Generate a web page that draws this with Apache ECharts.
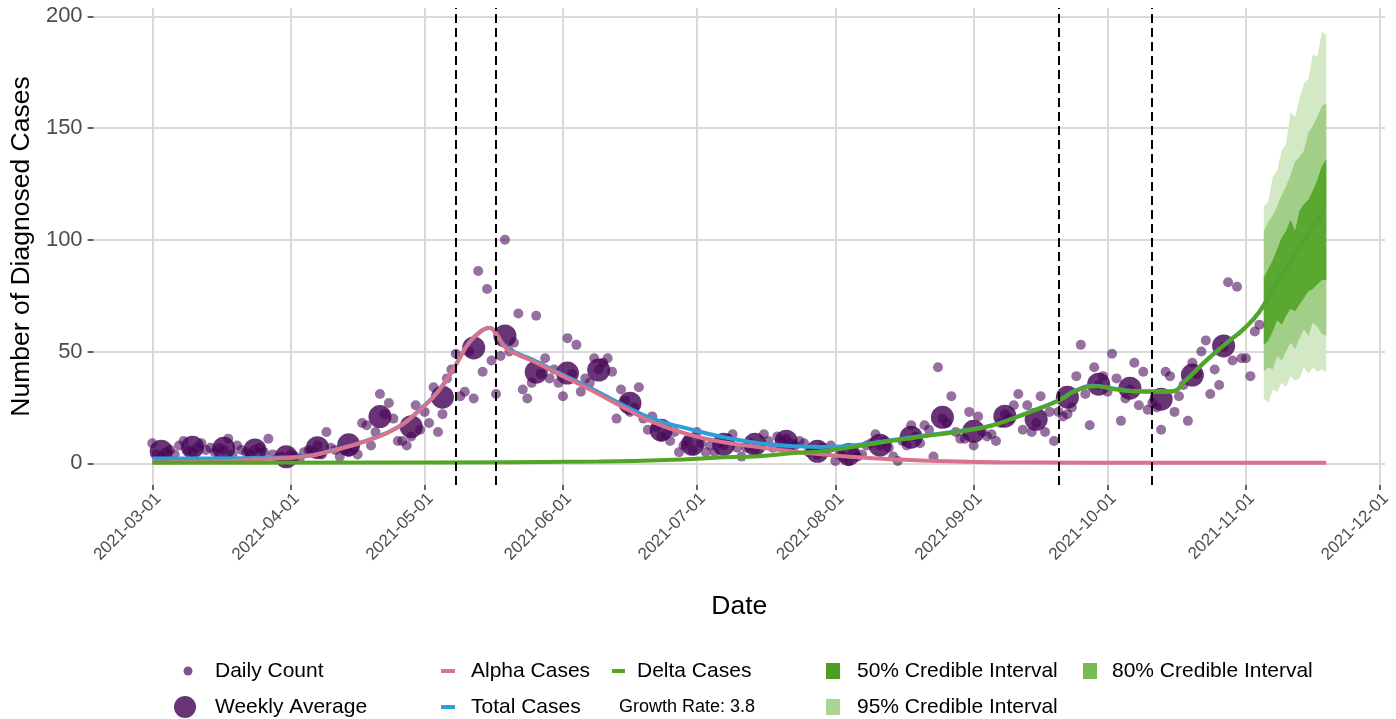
<!DOCTYPE html>
<html><head><meta charset="utf-8">
<script src="https://cdn.jsdelivr.net/npm/echarts@6/dist/echarts.min.js"></script>
<style>html,body{margin:0;padding:0;background:#fff}#chart{width:1396px;height:719px}</style>
</head><body><div id="chart"></div>
<script>
// x values are days since 2021-03-01
const xTickDays = [0, 31, 61, 92, 122, 153, 184, 214, 245, 275];
const xTickLabels = ['2021-03-01','2021-04-01','2021-05-01','2021-06-01','2021-07-01','2021-08-01','2021-09-01','2021-10-01','2021-11-01','2021-12-01'];
const yTicks = [0, 50, 100, 150, 200];

const dailyCounts = [
  9,4,3,5,6,4,8, 10,6,5,7,9,6,7, 5,7,6,11,4,8,6, 5,4,6,7,5,11,4, 2,3,1,4,3,2,5,
  6,5,8,4,14,7,6, 3,6,5,7,4,18,17, 8,14,31,22,27,20,10, 10,8,12,26,15,23,18,
  34,14,22,38,42,49,30, 32,50,29,86,41,78,46, 31,48,100,50,54,67,33,
  29,36,66,40,47,38,42, 36,30,56,40,53,32,38, 36,47,42,45,47,41,20,
  33,28,23,25,34,20,15, 21,16,12,13,10,14,5, 8,10,6,14,9,5,8,
  5,9,8,11,13,7,3, 7,9,6,8,13,10,7, 12,10,11,9,8,10,9, 5,6,4,7,5,8,1,
  4,3,1,5,3,4,8, 9,13,8,10,7,3,1, 10,8,17,12,9,17,15, 3,43,20,18,30,14,11,
  11,23,8,21,14,12,13, 10,18,22,20,26,31,15, 26,14,18,30,14,23,10,
  23,21,22,25,39,53,31, 17,43,35,39,32,49,38, 19,29,33,45,26,41,24,
  27,25,15,41,39,23,30, 35,19,45,40,50,55,31, 42,35,52,81,46,79,47, 47,39,59,62
];

const weeklyDays = [2,9,16,23,30,37,44,51,58,65,72,79,86,93,100,107,114,121,128,135,142,149,156,163,170,177,184,191,198,205,212,219,226,233,240];
const weeklyAvg = [5.4,7.2,6.7,6.0,2.9,7.0,8.3,20.9,16.4,29.6,51.6,57.0,40.8,40.4,41.7,26.9,14.8,8.5,8.5,8.5,9.9,5.4,4.0,8.1,11.7,20.6,14.3,21.1,19.7,29.6,35.4,33.6,28.7,39.5,52.5];

const alphaDays  = [0,14,26,34,41,48,55,60,64,68,71,74,75.5,77,79,82,85,92,99,106,112,120,128,136,143,150,158,166,176,190,210,263];
const alphaCases = [0.5,0.8,2,3,6,10,16,24,32,44,54,59.5,60.5,58,52,48.5,46,39,32,24.5,18.5,13,9.4,7.2,5.4,4,2.7,1.8,1,0.5,0.3,0.2];

const totalDays  = [0,14,26,34,41,48,55,60,64,68,71,74,75.5,77,79,82,85,92,99,106,112,120,128,136,143,150,158,165,173,180,188,196,203,207,211,216,222,228,232,236,241,244.5,248,251.5,255.3,259,262.5];
const totalCases = [2.2,2.2,2.5,3.2,6.2,10.2,16.2,24.2,32.2,44.2,54.2,59.7,60.7,58.3,52.5,49,46.5,39.6,32.8,25.5,20,15.5,11.7,9,7.8,7.3,8.2,10.2,12.4,14.3,17,22.6,28.2,32.7,34.7,33.2,32.2,32.2,38.2,45.9,54.5,60.2,67.9,79.6,91.7,102.9,113.2];

const deltaDays  = [0,60,100,120,128,136,143,150,158,165,173,180,188,196,203,207,211,216,222,228,232,236,241,244.5,248,251.5,255.3,259,262.5];
const deltaCases = [0.3,0.4,0.8,1.8,2.7,3.2,4.5,5.4,7.6,9.9,12.1,14,16.8,22.5,28,32.5,34.5,33,32,32,38,45.7,54.3,60,67.7,79.4,91.5,102.7,113];

const bandDays = [249,250,251,252,253,254,255,256,257,258,259,260,261,262,263];
const ci95Low  = [29,27,33,32,36,34,39,37,38,43,40,43,41,42,41];
const ci95High = [115,117,128,131,140,143,157,155,163,170,172,183,182,193,192];
const ci80Low  = [41,43,42,48,46,50,54,51,56,60,57,63,61,58,57];
const ci80High = [104,108,111,115,120,124,129,135,137,140,148,151,155,160,161];
const ci50Low  = [53,55,59,64,62,66,69,68,71,74,77,78,80,82,82];
const ci50High = [83,87,91,96,101,104,109,104,113,116,118,122,127,133,136];

const changeDays = [68, 77, 203, 224];
const growthRate = 3.8;

const FONT = '"Liberation Sans", Arial, sans-serif';
const C = {
  daily: 'rgba(68,1,84,0.7)', weekly: '#440154',
  alpha: '#d9738d', total: '#2b9fd8', delta: '#53a624',
  c50: '#5aa82f', c80: '#a2cf88', c95: '#d3e9c6',
  l50: '#4c9e22', l80: '#7aba52', l95: '#acd495'
};

function band(name, lo, hi, color) {
  return {
    type: 'custom', name: name, silent: true,
    data: bandDays.map((d, i) => [d, lo[i], hi[i]]),
    encode: { x: 0, y: [1, 2] },
    renderItem: function (params, api) {
      if (params.dataIndex !== 0) return;
      const pts = [];
      for (let i = 0; i < bandDays.length; i++) pts.push(api.coord([bandDays[i], hi[i]]));
      for (let i = bandDays.length - 1; i >= 0; i--) pts.push(api.coord([bandDays[i], lo[i]]));
      return { type: 'polygon', shape: { points: pts }, style: { fill: color } };
    },
    itemStyle: { color: color }
  };
}
function curve(name, days, vals, color) {
  return {
    type: 'line', name: name, smooth: 0.5, symbol: 'none', silent: true,
    data: days.map((d, i) => [d, vals[i]]),
    lineStyle: { color: color, width: 4 }, itemStyle: { color: color }
  };
}
const legText = { fontFamily: FONT, fontSize: 21, color: '#000', lineHeight: 24 };
function leg(left, top, items, w, h, pad) {
  return {
    orient: 'vertical', left: left, top: top, itemWidth: w, itemHeight: h, itemGap: 12,
    selectedMode: false, padding: 0,
    textStyle: Object.assign({}, legText, { padding: [0, 0, 0, pad] }),
    data: items
  };
}

const chart = echarts.init(document.getElementById('chart'), null, { renderer: 'canvas' });
chart.setOption({
  animation: false,
  backgroundColor: '#fff',
  grid: { left: 93, right: 11, top: 8, bottom: 234, containLabel: false },
  xAxis: {
    type: 'value', min: -13.15, max: 276.15,
    name: 'Date', nameLocation: 'middle', nameGap: 108,
    nameTextStyle: { fontFamily: FONT, fontSize: 26.5, color: '#000' },
    axisLine: { show: false, onZero: false },
    axisTick: { show: true, length: 5, customValues: xTickDays, lineStyle: { color: '#333', width: 1.5 } },
    axisLabel: {
      customValues: xTickDays, rotate: 45, margin: 5, verticalAlign: 'top', color: '#4d4d4d', fontFamily: FONT, fontSize: 17,
      formatter: function (v) { const i = xTickDays.indexOf(Math.round(v)); return i >= 0 ? xTickLabels[i] : ''; }
    },
    splitLine: { show: true, lineStyle: { color: '#d9d9d9', width: 2 } }
  },
  yAxis: {
    type: 'value', min: -9.7, max: 203.7,
    name: 'Number of Diagnosed Cases', nameLocation: 'middle', nameGap: 49,
    nameTextStyle: { fontFamily: FONT, fontSize: 26.5, color: '#000' },
    axisLine: { show: false, onZero: false },
    axisTick: { show: true, length: 6, customValues: yTicks, lineStyle: { color: '#333', width: 1.5 } },
    axisLabel: { customValues: yTicks, margin: 11, color: '#4d4d4d', fontFamily: FONT, fontSize: 22 },
    splitLine: { show: true, lineStyle: { color: '#d9d9d9', width: 2 } }
  },
  legend: [
    leg(183.5, 659, [{ name: 'Daily Count', icon: 'circle', itemStyle: { color: '#5c2a6e' } }], 44, 9, 0),
    leg(174, 695, [{ name: 'Weekly Average', icon: 'circle', itemStyle: { color: C.weekly } }], 50, 22, 0),
    leg(441, 659, [{ name: 'Alpha Cases', icon: 'rect', itemStyle: { color: C.alpha } },
                   { name: 'Total Cases', icon: 'rect', itemStyle: { color: C.total } }], 14, 4, 11),
    leg(612, 659, [{ name: 'Delta Cases', icon: 'rect', itemStyle: { color: C.delta } }], 13, 4, 7),
    leg(826, 659, [{ name: '50% Credible Interval', icon: 'rect', itemStyle: { color: C.l50 } },
                   { name: '95% Credible Interval', icon: 'rect', itemStyle: { color: C.l95 } }], 14, 16, 12),
    leg(1083, 659, [{ name: '80% Credible Interval', icon: 'rect', itemStyle: { color: C.l80 } }], 14, 16, 10)
  ],
  graphic: [{
    type: 'text', left: 619, top: 698, silent: true,
    style: { text: 'Growth Rate: ' + growthRate, font: '18px ' + FONT, fill: '#000' }
  }],
  series: [
    band('95% Credible Interval', ci95Low, ci95High, C.c95),
    band('80% Credible Interval', ci80Low, ci80High, C.c80),
    band('50% Credible Interval', ci50Low, ci50High, C.c50),
    {
      type: 'scatter', name: 'Daily Count', symbolSize: 10, silent: true,
      data: dailyCounts.map((v, i) => [i, v]),
      itemStyle: { color: C.daily }
    },
    {
      type: 'scatter', name: 'Weekly Average', symbolSize: 23, silent: true,
      data: weeklyDays.map((d, i) => [d, weeklyAvg[i]]),
      itemStyle: { color: C.weekly }
    },
    curve('Total Cases', totalDays, totalCases, C.total),
    curve('Alpha Cases', alphaDays, alphaCases, C.alpha),
    curve('Delta Cases', deltaDays, deltaCases, C.delta),
    {
      type: 'line', name: 'change points', data: [], silent: true, z: 5,
      markLine: {
        symbol: ['none', 'none'], silent: true, label: { show: false },
        lineStyle: { color: '#000', type: [9, 5], width: 2 },
        data: changeDays.map(d => ({ xAxis: d }))
      }
    }
  ]
});
</script></body></html>
